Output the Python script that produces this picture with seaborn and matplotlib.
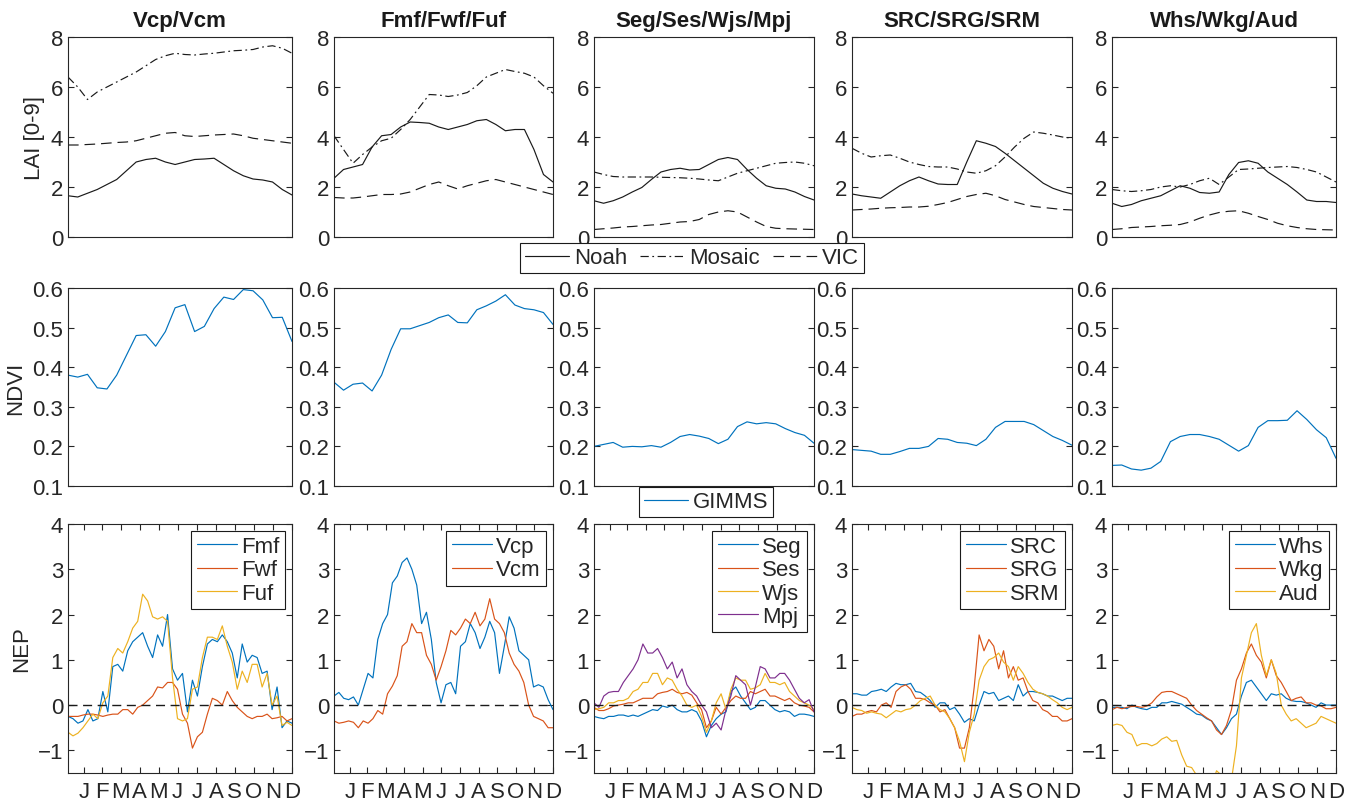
import numpy as np
import matplotlib
matplotlib.use("Agg")
import matplotlib.pyplot as plt
import seaborn as sns

# --- данные ---
titles = ["Vcp/Vcm", "Fmf/Fwf/Fuf", "Seg/Ses/Wjs/Mpj", "SRC/SRG/SRM", "Whs/Wkg/Aud"]
month_labels = ["J", "F", "M", "A", "M", "J", "J", "A", "S", "O", "N", "D"]
month_ends = [31, 59, 90, 120, 151, 181, 212, 243, 273, 304, 334, 365]

# LAI, 24 полумесячных шага
lai_step = np.arange(24)
noah_lai = [
    [1.65, 1.6, 1.75, 1.9, 2.1, 2.3, 2.65, 3.0, 3.1, 3.15, 3.0, 2.9, 3.0, 3.1, 3.12, 3.15, 2.9, 2.65, 2.45, 2.32, 2.28, 2.2, 1.9, 1.68],
    [2.35, 2.7, 2.8, 2.9, 3.6, 4.05, 4.1, 4.4, 4.6, 4.58, 4.55, 4.4, 4.3, 4.4, 4.5, 4.65, 4.7, 4.5, 4.25, 4.3, 4.3, 3.5, 2.5, 2.2],
    [1.45, 1.35, 1.45, 1.6, 1.8, 1.98, 2.3, 2.6, 2.7, 2.75, 2.68, 2.7, 2.9, 3.1, 3.18, 3.1, 2.7, 2.35, 2.05, 1.95, 1.92, 1.8, 1.62, 1.48],
    [1.72, 1.65, 1.6, 1.55, 1.8, 2.05, 2.25, 2.4, 2.25, 2.12, 2.1, 2.1, 3.0, 3.85, 3.75, 3.62, 3.35, 3.05, 2.75, 2.45, 2.15, 1.95, 1.82, 1.72],
    [1.35, 1.22, 1.3, 1.45, 1.55, 1.65, 1.85, 2.05, 1.95, 1.78, 1.75, 1.8, 2.5, 2.98, 3.05, 2.95, 2.6, 2.35, 2.1, 1.8, 1.48, 1.42, 1.42, 1.38],
]
mosaic_lai = [
    [6.4, 6.0, 5.5, 5.8, 6.0, 6.2, 6.4, 6.6, 6.85, 7.1, 7.25, 7.35, 7.3, 7.28, 7.32, 7.35, 7.4, 7.45, 7.47, 7.5, 7.6, 7.65, 7.55, 7.35],
    [4.05, 3.5, 2.95, 3.3, 3.6, 3.85, 3.95, 4.3, 4.7, 5.2, 5.7, 5.68, 5.62, 5.68, 5.78, 6.05, 6.4, 6.55, 6.7, 6.62, 6.55, 6.4, 6.05, 5.75],
    [2.6, 2.5, 2.42, 2.4, 2.4, 2.4, 2.4, 2.39, 2.38, 2.37, 2.35, 2.32, 2.28, 2.25, 2.4, 2.55, 2.65, 2.75, 2.85, 2.95, 2.98, 3.0, 2.95, 2.85],
    [3.55, 3.35, 3.2, 3.25, 3.28, 3.15, 3.0, 2.9, 2.82, 2.8, 2.8, 2.72, 2.6, 2.55, 2.65, 2.85, 3.2, 3.6, 3.95, 4.2, 4.15, 4.08, 4.0, 3.95],
    [1.9, 1.85, 1.82, 1.85, 1.9, 2.0, 2.05, 2.0, 2.1, 2.25, 2.35, 2.1, 2.4, 2.7, 2.72, 2.75, 2.78, 2.8, 2.82, 2.78, 2.7, 2.6, 2.4, 2.2],
]
vic_lai = [
    [3.68, 3.68, 3.7, 3.72, 3.75, 3.78, 3.8, 3.85, 3.95, 4.05, 4.15, 4.18, 4.05, 4.02, 4.05, 4.08, 4.1, 4.12, 4.05, 3.95, 3.9, 3.85, 3.8, 3.75],
    [1.58, 1.56, 1.56, 1.6, 1.65, 1.7, 1.7, 1.72, 1.8, 1.95, 2.1, 2.2, 2.05, 1.92, 2.05, 2.15, 2.25, 2.3, 2.2, 2.1, 2.0, 1.9, 1.8, 1.7],
    [0.3, 0.33, 0.36, 0.4, 0.42, 0.45, 0.48, 0.5, 0.55, 0.6, 0.62, 0.7, 0.9, 1.0, 1.05, 1.0, 0.8, 0.6, 0.42, 0.35, 0.33, 0.32, 0.31, 0.3],
    [1.08, 1.1, 1.12, 1.15, 1.17, 1.18, 1.2, 1.2, 1.23, 1.3, 1.38, 1.5, 1.62, 1.7, 1.75, 1.65, 1.5, 1.4, 1.3, 1.22, 1.18, 1.14, 1.1, 1.08],
    [0.3, 0.33, 0.38, 0.4, 0.42, 0.45, 0.47, 0.5, 0.6, 0.75, 0.88, 0.98, 1.03, 1.05, 0.95, 0.82, 0.7, 0.55, 0.45, 0.38, 0.33, 0.3, 0.29, 0.28],
]

# NDVI GIMMS, 24 полумесячных значения
gimms_ndvi = [
    [0.38, 0.375, 0.382, 0.348, 0.345, 0.38, 0.43, 0.48, 0.482, 0.453, 0.49, 0.55, 0.558, 0.49, 0.503, 0.548, 0.577, 0.571, 0.596, 0.593, 0.57, 0.525, 0.526, 0.465],
    [0.362, 0.342, 0.357, 0.36, 0.34, 0.38, 0.445, 0.497, 0.497, 0.505, 0.513, 0.525, 0.532, 0.513, 0.512, 0.545, 0.555, 0.567, 0.583, 0.557, 0.548, 0.545, 0.538, 0.508],
    [0.2, 0.205, 0.21, 0.198, 0.2, 0.199, 0.202, 0.198, 0.21, 0.225, 0.23, 0.226, 0.22, 0.207, 0.218, 0.25, 0.262, 0.257, 0.26, 0.257, 0.245, 0.235, 0.228, 0.208],
    [0.192, 0.19, 0.188, 0.18, 0.18, 0.187, 0.195, 0.195, 0.2, 0.22, 0.218, 0.21, 0.208, 0.202, 0.218, 0.248, 0.263, 0.263, 0.263, 0.255, 0.24, 0.225, 0.215, 0.203],
    [0.152, 0.153, 0.143, 0.14, 0.145, 0.162, 0.212, 0.225, 0.23, 0.23, 0.225, 0.218, 0.203, 0.188, 0.202, 0.248, 0.265, 0.265, 0.266, 0.29, 0.268, 0.242, 0.222, 0.17],
]

# NEP, 8-дневные шаги (день года)
nep_doy = np.arange(5, 366, 8)
nep_fmf = [-0.25, -0.3, -0.4, -0.35, -0.1, -0.35, -0.3, 0.3, -0.15, 0.85, 0.9, 0.75, 1.2, 1.4, 1.5, 1.6, 1.3, 1.05, 1.55, 1.3, 2.0, 0.8, 0.55, 0.7, -0.15, 0.55, 0.2, 0.85, 1.35, 1.45, 1.4, 1.55, 1.4, 1.15, 0.6, 1.35, 0.95, 1.1, 1.05, 0.7, 0.75, -0.1, 0.4, -0.5, -0.35, -0.4]
nep_fwf = [-0.25, -0.25, -0.25, -0.22, -0.2, -0.2, -0.22, -0.25, -0.22, -0.2, -0.2, -0.1, -0.1, -0.2, -0.05, 0.0, 0.1, 0.2, 0.4, 0.38, 0.5, 0.5, 0.35, -0.2, -0.4, -0.95, -0.7, -0.6, -0.2, 0.15, 0.1, 0.0, 0.3, 0.1, -0.05, -0.15, -0.25, -0.3, -0.25, -0.25, -0.2, -0.3, -0.28, -0.25, -0.35, -0.3]
nep_fuf = [-0.6, -0.68, -0.62, -0.5, -0.35, -0.2, -0.3, 0.05, 0.2, 1.05, 1.25, 1.15, 1.4, 1.7, 1.85, 2.45, 2.3, 1.95, 1.9, 1.95, 1.85, 0.6, -0.3, -0.35, -0.3, 0.35, 0.4, 1.05, 1.5, 1.5, 1.45, 1.75, 1.3, 0.95, 0.35, 0.75, 0.5, 0.9, 0.9, 0.4, 0.7, 0.0, 0.2, -0.45, -0.38, -0.45]
nep_vcp = [0.2, 0.28, 0.15, 0.12, 0.18, 0.0, 0.35, 0.7, 0.6, 1.45, 1.8, 2.0, 2.7, 2.85, 3.15, 3.25, 3.0, 2.65, 1.8, 2.05, 1.45, 0.5, 0.05, 0.45, 0.5, 0.25, 1.3, 1.4, 1.8, 1.6, 1.25, 1.5, 1.85, 1.6, 0.7, 1.3, 1.95, 1.7, 1.2, 1.1, 1.0, 0.4, 0.45, 0.4, 0.12, -0.1]
nep_vcm = [-0.35, -0.4, -0.38, -0.35, -0.38, -0.5, -0.35, -0.4, -0.3, -0.12, -0.2, 0.25, 0.42, 0.65, 1.3, 1.4, 1.8, 1.6, 1.6, 1.1, 0.9, 0.55, 0.85, 1.2, 1.65, 1.55, 1.7, 1.9, 1.8, 2.05, 1.75, 1.9, 2.35, 1.9, 1.8, 1.6, 1.15, 0.9, 0.75, 0.5, 0.0, -0.25, -0.3, -0.35, -0.5, -0.5]
nep_seg = [-0.25, -0.28, -0.3, -0.25, -0.25, -0.22, -0.22, -0.25, -0.22, -0.25, -0.2, -0.15, -0.1, -0.12, -0.02, -0.05, 0.0, -0.1, -0.15, -0.15, -0.1, -0.15, -0.35, -0.7, -0.45, -0.3, -0.2, -0.15, 0.3, 0.4, 0.2, 0.05, -0.1, -0.05, 0.1, 0.1, 0.0, -0.1, -0.15, -0.12, -0.15, -0.25, -0.2, -0.2, -0.22, -0.25]
nep_ses = [-0.05, -0.12, -0.12, -0.08, -0.02, 0.0, 0.02, 0.05, 0.05, 0.1, 0.15, 0.15, 0.15, 0.25, 0.28, 0.3, 0.35, 0.28, 0.25, 0.28, 0.22, 0.05, -0.1, -0.5, -0.35, -0.05, -0.2, -0.05, 0.1, 0.2, 0.15, 0.15, 0.3, 0.25, 0.3, 0.35, 0.2, 0.2, 0.15, 0.1, 0.15, 0.05, 0.0, -0.02, -0.05, -0.15]
nep_wjs = [-0.1, -0.08, -0.05, 0.05, 0.05, 0.1, 0.1, 0.15, 0.3, 0.35, 0.5, 0.5, 0.7, 0.7, 0.45, 0.6, 0.55, 0.35, 0.2, 0.0, -0.05, 0.0, -0.25, -0.6, -0.35, 0.05, 0.25, -0.1, 0.35, 0.6, 0.55, 0.55, 0.35, 0.38, 0.45, 0.7, 0.5, 0.5, 0.45, 0.5, 0.3, 0.2, 0.1, 0.05, 0.0, -0.1]
nep_mpj = [0.05, -0.05, 0.2, 0.28, 0.3, 0.3, 0.5, 0.65, 0.8, 1.0, 1.35, 1.15, 1.15, 1.25, 1.05, 0.8, 0.95, 0.6, 0.8, 0.45, 0.3, 0.2, 0.0, -0.15, -0.5, -0.4, -0.55, -0.1, 0.2, 0.65, 0.55, 0.45, 0.0, 0.4, 0.85, 0.8, 0.6, 0.6, 0.7, 0.7, 0.55, 0.35, 0.15, 0.05, 0.12, -0.15]
nep_src = [0.25, 0.25, 0.22, 0.22, 0.3, 0.32, 0.35, 0.3, 0.4, 0.48, 0.45, 0.45, 0.48, 0.3, 0.28, 0.2, 0.1, -0.05, 0.05, 0.05, -0.1, -0.05, -0.2, -0.38, -0.3, -0.35, 0.0, 0.3, 0.25, 0.28, 0.1, 0.15, 0.2, 0.1, 0.45, 0.2, 0.3, 0.3, 0.28, 0.25, 0.2, 0.2, 0.15, 0.1, 0.15, 0.15]
nep_srg = [-0.25, -0.2, -0.2, -0.15, -0.12, -0.15, 0.0, 0.05, -0.05, 0.3, 0.4, 0.45, 0.35, 0.15, 0.15, 0.12, 0.05, 0.0, -0.15, -0.1, -0.3, -0.5, -0.95, -0.95, -0.5, 0.4, 1.55, 1.2, 1.45, 1.3, 0.8, 1.2, 0.6, 0.85, 0.55, 0.6, 0.3, 0.1, 0.05, -0.1, -0.15, -0.25, -0.25, -0.35, -0.35, -0.3]
nep_srm = [-0.05, -0.1, -0.12, -0.18, -0.15, -0.18, -0.2, -0.28, -0.2, -0.12, -0.15, -0.1, -0.08, 0.0, 0.1, 0.15, 0.2, 0.0, -0.1, -0.15, -0.3, -0.5, -0.8, -1.25, -0.6, -0.2, 0.55, 0.85, 1.0, 1.05, 1.15, 0.95, 0.85, 0.55, 0.85, 0.7, 0.5, 0.35, 0.28, 0.25, 0.2, 0.12, 0.05, -0.05, -0.1, -0.05]
nep_whs = [-0.05, -0.05, -0.05, -0.08, 0.0, -0.05, -0.08, -0.1, -0.05, -0.05, 0.05, 0.05, 0.08, 0.05, 0.02, -0.05, -0.12, -0.2, -0.22, -0.3, -0.35, -0.5, -0.65, -0.5, -0.3, -0.2, 0.2, 0.5, 0.55, 0.4, 0.25, 0.1, 0.25, 0.22, 0.25, 0.15, 0.1, 0.08, 0.08, 0.05, 0.0, -0.05, 0.05, 0.0, 0.0, 0.0]
nep_wkg = [-0.1, -0.05, -0.08, -0.05, -0.03, -0.03, -0.05, -0.02, 0.05, 0.18, 0.28, 0.3, 0.3, 0.25, 0.2, 0.15, 0.0, -0.12, -0.2, -0.28, -0.35, -0.55, -0.65, -0.45, -0.1, 0.55, 0.8, 1.15, 1.35, 1.1, 0.95, 0.6, 1.0, 0.65, 0.5, 0.3, 0.1, 0.15, 0.18, 0.05, 0.05, 0.0, -0.02, -0.08, -0.08, -0.05]
nep_aud = [-0.45, -0.42, -0.45, -0.6, -0.65, -0.9, -0.85, -0.85, -0.9, -0.85, -0.75, -0.7, -0.8, -0.78, -1.1, -1.35, -1.38, -1.55, -1.8, -1.95, -1.8, -1.45, -1.55, -1.6, -1.65, -0.9, 0.6, 1.1, 1.6, 1.8, 1.1, 0.65, 1.0, 0.7, 0.0, -0.2, -0.35, -0.3, -0.4, -0.5, -0.45, -0.4, -0.25, -0.3, -0.35, -0.4]

nep_sites = [["Fmf", "Fwf", "Fuf"], ["Vcp", "Vcm"], ["Seg", "Ses", "Wjs", "Mpj"],
             ["SRC", "SRG", "SRM"], ["Whs", "Wkg", "Aud"]]
nep_values = [[nep_fmf, nep_fwf, nep_fuf], [nep_vcp, nep_vcm],
              [nep_seg, nep_ses, nep_wjs, nep_mpj],
              [nep_src, nep_srg, nep_srm], [nep_whs, nep_wkg, nep_aud]]

# цвета MATLAB
site_colors = ["#0072BD", "#D95319", "#EDB120", "#7E2F8E"]

# --- оформление ---
sns.set_theme(style="ticks")
plt.rcParams['font.family'] = ['Liberation Sans', 'DejaVu Sans']
plt.rcParams['axes.edgecolor'] = '#262626'
plt.rcParams['axes.linewidth'] = 0.8

W, H = 1353, 804
col_left = [68, 334, 594, 852, 1112]
col_right = [292, 553, 814, 1072, 1336]
row_top = [38, 289, 525]
row_bottom = [238, 487, 774]
FS = 16
LW = 0.85


def make_axes(fig, row, col):
    l = col_left[col] / W
    w = (col_right[col] - col_left[col]) / W
    b = 1 - row_bottom[row] / H
    h = (row_bottom[row] - row_top[row]) / H
    ax = fig.add_axes([l, b, w, h])
    ax.tick_params(direction='in', length=4, top=True, right=True,
                   labelsize=FS, color='#262626', labelcolor='#262626', width=0.8)
    for s in ax.spines.values():
        s.set_visible(True)
    return ax


fig = plt.figure(figsize=(W / 100, H / 100), dpi=100)

lai_handles = None
gimms_handles = None
for c in range(5):
    # LAI
    ax = make_axes(fig, 0, c)
    sns.lineplot(x=lai_step, y=noah_lai[c], ax=ax, color='k', lw=LW, linestyle='-', label='Noah')
    sns.lineplot(x=lai_step, y=mosaic_lai[c], ax=ax, color='k', lw=LW, linestyle=(0, (7, 3, 1.5, 3)), label='Mosaic')
    sns.lineplot(x=lai_step, y=vic_lai[c], ax=ax, color='k', lw=LW, linestyle=(0, (9, 5)), label='VIC')
    ax.set_xlim(0, 23)
    ax.set_ylim(0, 8)
    ax.set_yticks([0, 2, 4, 6, 8])
    ax.set_xticks([])
    ax.set_xlabel("")
    ax.set_title(titles[c], fontsize=FS, fontweight='bold', color='#1a1a1a', pad=8)
    if c == 0:
        ax.set_ylabel("LAI [0-9]", fontsize=FS, color='#262626')
    lai_handles = ax.get_legend_handles_labels()
    ax.get_legend().remove()

    # NDVI
    ax = make_axes(fig, 1, c)
    sns.lineplot(x=lai_step, y=gimms_ndvi[c], ax=ax, color=site_colors[0], lw=LW, label='GIMMS')
    ax.set_xlim(0, 23)
    ax.set_ylim(0.1, 0.6)
    ax.set_yticks([0.1, 0.2, 0.3, 0.4, 0.5, 0.6])
    ax.set_xticks([])
    ax.set_xlabel("")
    if c == 0:
        ax.set_ylabel("NDVI", fontsize=FS, color='#262626')
    gimms_handles = ax.get_legend_handles_labels()
    ax.get_legend().remove()

    # NEP
    ax = make_axes(fig, 2, c)
    for i, (name, vals) in enumerate(zip(nep_sites[c], nep_values[c])):
        sns.lineplot(x=nep_doy, y=vals, ax=ax, color=site_colors[i], lw=LW, label=name)
    ax.axhline(0, color='k', lw=1, linestyle=(0, (6.5, 4)))
    ax.set_xlim(5, 365)
    ax.set_ylim(-1.5, 4)
    ax.set_yticks([-1, 0, 1, 2, 3, 4])
    ax.set_xticks(month_ends)
    ax.set_xticklabels(month_labels)
    ax.tick_params(axis='x', pad=6)
    ax.set_xlabel("")
    if c == 0:
        ax.set_ylabel("NEP", fontsize=FS, color='#262626')
    leg = ax.legend(loc='upper right', fontsize=FS, frameon=True, fancybox=False,
                    edgecolor='k', framealpha=1, handlelength=1.8, handletextpad=0.2,
                    labelspacing=0.1, borderpad=0.25, borderaxespad=0.3)
    leg.get_frame().set_linewidth(0.8)

leg = fig.legend(*lai_handles, loc='center', bbox_to_anchor=(692 / W, 1 - 259 / H), ncol=3,
                 fontsize=FS, frameon=True, fancybox=False, edgecolor='k', framealpha=1,
                 handlelength=2.0, handletextpad=0.2, columnspacing=0.6, borderpad=0.2)
leg.get_frame().set_linewidth(0.8)
leg = fig.legend(*gimms_handles, loc='center', bbox_to_anchor=(706 / W, 1 - 503 / H),
                 fontsize=FS, frameon=True, fancybox=False, edgecolor='k', framealpha=1,
                 handlelength=2.0, handletextpad=0.2, borderpad=0.2)
leg.get_frame().set_linewidth(0.8)

fig.savefig("out.png", dpi=100)
